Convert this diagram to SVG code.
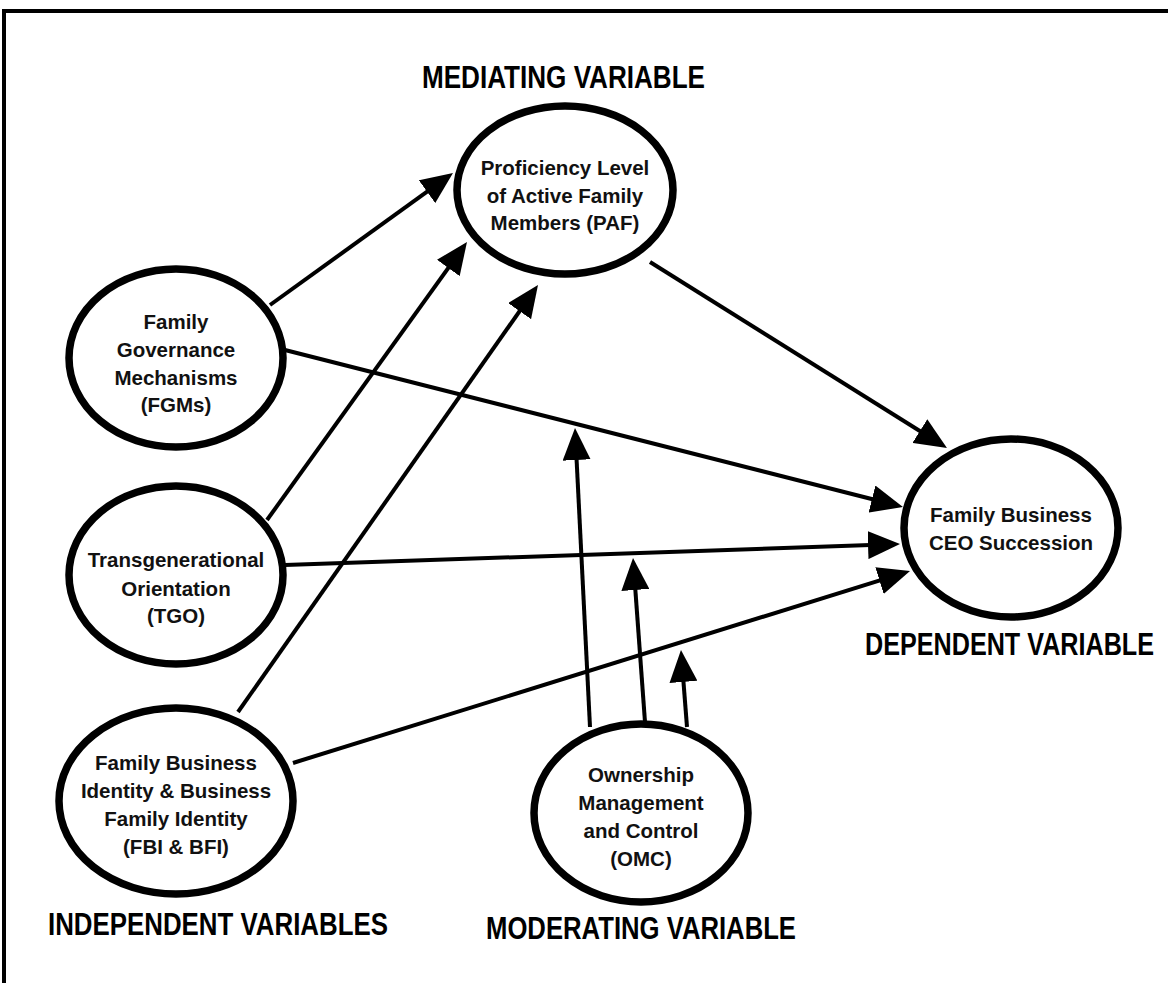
<svg xmlns="http://www.w3.org/2000/svg" width="1168" height="983" viewBox="0 0 1168 983">
  <defs>
    <marker id="arrow" markerUnits="userSpaceOnUse" markerWidth="32" markerHeight="28" viewBox="0 0 32 28" refX="24" refY="14" orient="auto">
      <path d="M0,0 L32,14 L0,28 z" fill="#000"/>
    </marker>
    <style>
      .frame { fill: none; stroke: #000; stroke-width: 4; }
      .node ellipse { fill: #fff; stroke: #000; stroke-width: 7.5; }
      .node text { font-family: "Liberation Sans", Arial, sans-serif; font-weight: bold; font-size: 20.5px; fill: #111; text-anchor: middle; }
      .edge { stroke: #000; stroke-width: 4; fill: none; marker-end: url(#arrow); }
      .heading { font-family: "Liberation Sans", Arial, sans-serif; font-weight: bold; font-size: 30.5px; fill: #000; }
    </style>
  </defs>

  <rect width="1168" height="983" fill="#fff"/>
  <rect class="frame" x="4" y="11" width="1200" height="1010"/>

  <!-- connectors -->
  <g id="connectors">
    <line class="edge" x1="270" y1="305" x2="446.5" y2="177.7"/>
    <line class="edge" x1="267" y1="520" x2="462.3" y2="248.5"/>
    <line class="edge" x1="238" y1="712" x2="533.4" y2="291.5"/>
    <line class="edge" x1="650" y1="262" x2="940.2" y2="443.8"/>
    <line class="edge" x1="285" y1="350" x2="895.2" y2="505"/>
    <line class="edge" x1="285" y1="565" x2="892" y2="544.3"/>
    <line class="edge" x1="293" y1="763" x2="902.4" y2="573.4"/>
    <line class="edge" x1="590" y1="727" x2="575.4" y2="436"/>
    <line class="edge" x1="645" y1="722" x2="633.6" y2="566"/>
    <line class="edge" x1="687" y1="727" x2="681.6" y2="658"/>
  </g>

  <!-- nodes -->
  <g id="paf" class="node">
    <ellipse cx="565" cy="190" rx="108" ry="84"/>
    <text x="565" y="175">Proficiency Level</text>
    <text x="565" y="203">of Active Family</text>
    <text x="565" y="230">Members (PAF)</text>
  </g>

  <g id="fgm" class="node">
    <ellipse cx="176" cy="358" rx="107" ry="89"/>
    <text x="176" y="329">Family</text>
    <text x="176" y="357">Governance</text>
    <text x="176" y="385">Mechanisms</text>
    <text x="176" y="412">(FGMs)</text>
  </g>

  <g id="tgo" class="node">
    <ellipse cx="176" cy="575" rx="107" ry="89"/>
    <text x="176" y="567">Transgenerational</text>
    <text x="176" y="596">Orientation</text>
    <text x="176" y="623">(TGO)</text>
  </g>

  <g id="fbi" class="node">
    <ellipse cx="176" cy="801" rx="117" ry="93"/>
    <text x="176" y="770">Family Business</text>
    <text x="176" y="798">Identity &amp; Business</text>
    <text x="176" y="826">Family Identity</text>
    <text x="176" y="854">(FBI &amp; BFI)</text>
  </g>

  <g id="omc" class="node">
    <ellipse cx="641" cy="813" rx="107" ry="89"/>
    <text x="641" y="782">Ownership</text>
    <text x="641" y="810">Management</text>
    <text x="641" y="838">and Control</text>
    <text x="641" y="866">(OMC)</text>
  </g>

  <g id="ceo" class="node">
    <ellipse cx="1011" cy="528" rx="107" ry="89"/>
    <text x="1011" y="522">Family Business</text>
    <text x="1011" y="550">CEO Succession</text>
  </g>

  <!-- variable group headings -->
  <g id="headings">
    <text class="heading" x="422" y="88" textLength="283" lengthAdjust="spacingAndGlyphs">MEDIATING VARIABLE</text>
    <text class="heading" x="865" y="655" textLength="289" lengthAdjust="spacingAndGlyphs">DEPENDENT VARIABLE</text>
    <text class="heading" x="48" y="935" textLength="340" lengthAdjust="spacingAndGlyphs">INDEPENDENT VARIABLES</text>
    <text class="heading" x="486" y="939" textLength="310" lengthAdjust="spacingAndGlyphs">MODERATING VARIABLE</text>
  </g>
</svg>
